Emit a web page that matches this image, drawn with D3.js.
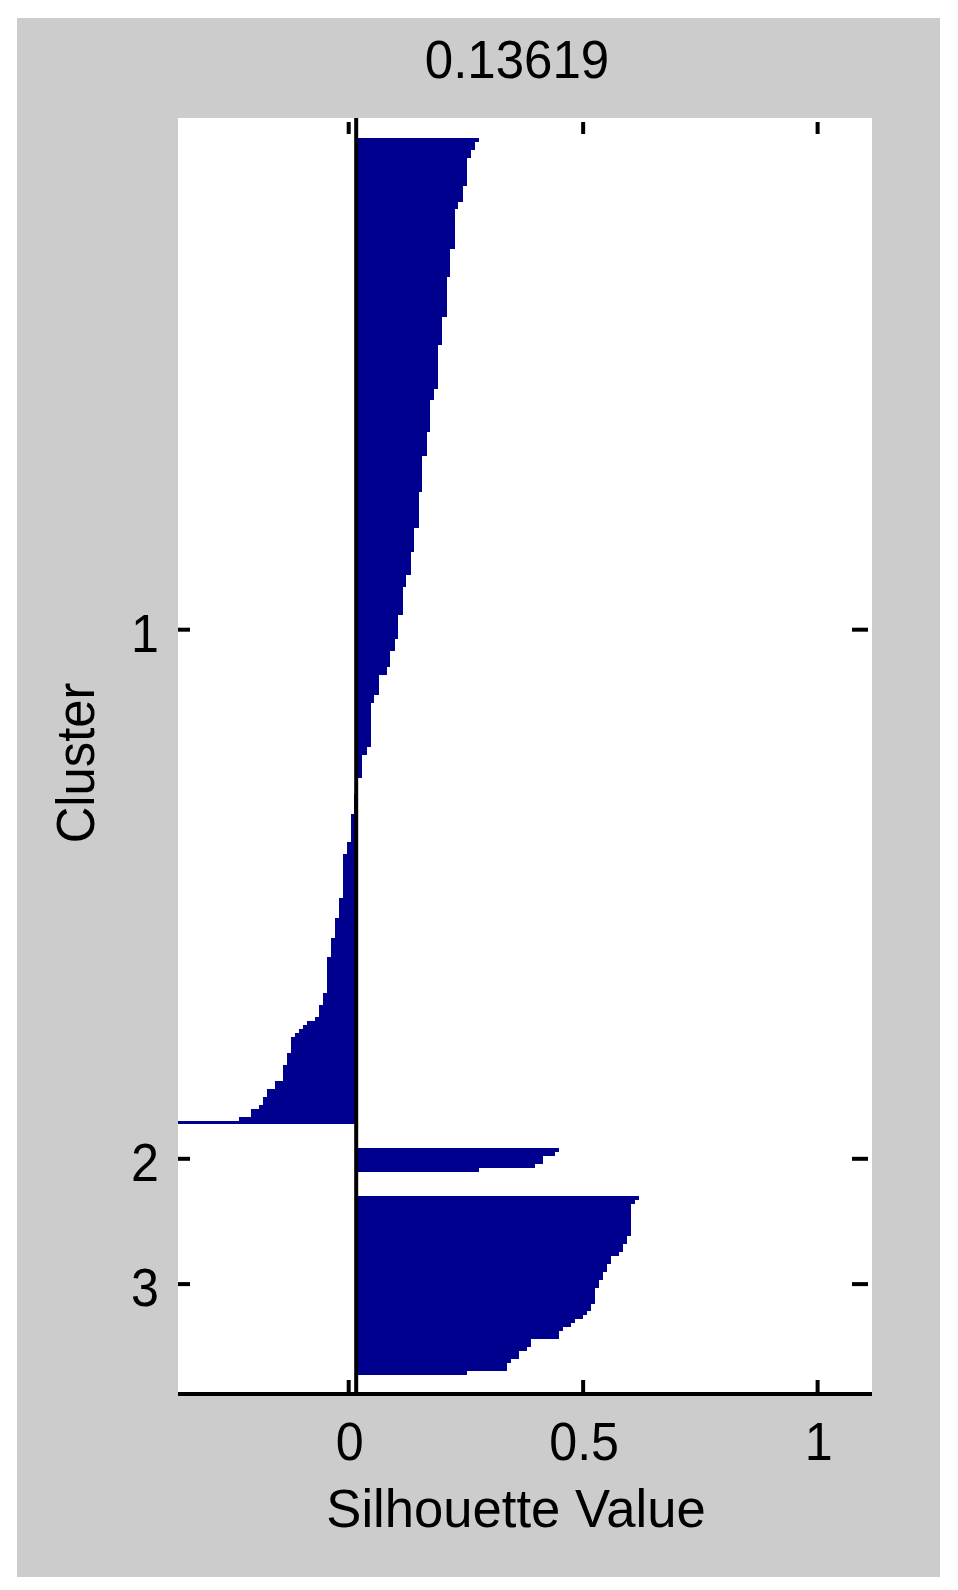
<!DOCTYPE html>
<html>
<head>
<meta charset="utf-8">
<script src="https://cdn.jsdelivr.net/npm/d3@7/dist/d3.min.js"></script>
<style>
  html, body { margin: 0; padding: 0; background: #ffffff; }
  svg { display: block; }
  text { font-family: "Liberation Sans", Arial, Helvetica, sans-serif; fill: #000; }
</style>
</head>
<body>
<svg id="chart" width="958" height="1590"></svg>
<script>
// ---------------- data ----------------
const chartTitle = "0.13619";
const xLabel = "Silhouette Value";
const yLabel = "Cluster";
const clusterNames = ["1", "2", "3"];
const xTicks = [0, 0.5, 1];
const xMax = 1.1;

// silhouette values of cluster 1, sorted descending (one per bar)
const cluster1 = [
  0.262,
  0.254, 0.254,
  0.245, 0.245,
  0.236, 0.236, 0.236, 0.236, 0.236, 0.236, 0.236,
  0.227, 0.227, 0.227, 0.227,
  0.218, 0.218,
  0.210, 0.210, 0.210, 0.210, 0.210, 0.210, 0.210, 0.210, 0.210, 0.210,
  0.201, 0.201, 0.201, 0.201, 0.201, 0.201, 0.201,
  0.193, 0.193, 0.193, 0.193, 0.193, 0.193, 0.193, 0.193, 0.193, 0.193,
  0.184, 0.184, 0.184, 0.184, 0.184, 0.184, 0.184,
  0.175, 0.175, 0.175, 0.175, 0.175, 0.175, 0.175, 0.175, 0.175, 0.175, 0.175,
  0.167, 0.167, 0.167,
  0.158, 0.158, 0.158, 0.158, 0.158, 0.158, 0.158, 0.158,
  0.150, 0.150, 0.150, 0.150, 0.150, 0.150,
  0.141, 0.141, 0.141, 0.141, 0.141, 0.141, 0.141, 0.141, 0.141,
  0.133, 0.133, 0.133, 0.133, 0.133, 0.133, 0.133, 0.133, 0.133,
  0.124, 0.124, 0.124, 0.124, 0.124, 0.124,
  0.116, 0.116, 0.116, 0.116, 0.116, 0.116,
  0.107, 0.107, 0.107,
  0.099, 0.099, 0.099, 0.099, 0.099, 0.099, 0.099,
  0.090, 0.090, 0.090, 0.090, 0.090, 0.090,
  0.082, 0.082, 0.082,
  0.073, 0.073, 0.073, 0.073,
  0.065, 0.065,
  0.048, 0.048, 0.048, 0.048, 0.048,
  0.039, 0.039,
  0.031, 0.031, 0.031, 0.031, 0.031, 0.031, 0.031, 0.031, 0.031, 0.031, 0.031,
  0.022, 0.022,
  0.013, 0.013, 0.013, 0.013, 0.013, 0.013,
  0.004, 0.004, 0.004, 0.004,
  -0.004, -0.004, -0.004, -0.004, -0.004,
  -0.011, -0.011, -0.011, -0.011, -0.011, -0.011, -0.011,
  -0.020, -0.020, -0.020,
  -0.028, -0.028, -0.028, -0.028, -0.028, -0.028, -0.028, -0.028, -0.028, -0.028, -0.028,
  -0.037, -0.037, -0.037, -0.037, -0.037,
  -0.045, -0.045, -0.045, -0.045, -0.045,
  -0.054, -0.054, -0.054, -0.054, -0.054,
  -0.062, -0.062, -0.062, -0.062, -0.062, -0.062, -0.062, -0.062, -0.062,
  -0.071, -0.071, -0.071,
  -0.080, -0.080, -0.080,
  -0.088,
  -0.105,
  -0.114,
  -0.122,
  -0.131,
  -0.139, -0.139, -0.139, -0.139,
  -0.148, -0.148, -0.148,
  -0.156, -0.156, -0.156, -0.156,
  -0.173, -0.173,
  -0.190, -0.190,
  -0.199, -0.199,
  -0.207,
  -0.224, -0.224,
  -0.250,
  -0.380
];

const cluster2 = [0.433, 0.424, 0.398, 0.398, 0.382, 0.262];

const cluster3 = [
  0.603, 0.595,
  0.586, 0.586, 0.586, 0.586, 0.586, 0.586, 0.586, 0.586,
  0.578, 0.578,
  0.569, 0.569,
  0.561,
  0.544, 0.544,
  0.535, 0.535,
  0.527, 0.527,
  0.518, 0.518,
  0.510, 0.510, 0.510, 0.510,
  0.501, 0.501,
  0.492, 0.484, 0.467, 0.458, 0.441,
  0.433, 0.433,
  0.373, 0.373,
  0.365,
  0.348, 0.348,
  0.330,
  0.322, 0.322,
  0.236
];

const clusters = [cluster1, cluster2, cluster3];

// ---------------- layout ----------------
const W = 958, H = 1590;
const panel = { x0: 17, y0: 18, x1: 940, y1: 1577 };
const plot = { left: 178, right: 872, top: 118, bottom: 1395 };
const leadRows = 5, gapRows = 6, trailRows = 5;
const barColor = "#00008F";
const fontSize = 54;

// build bar rows
const bars = [];
const tickRows = [];
let r = leadRows;
clusters.forEach((vals, ci) => {
  const first = r;
  vals.forEach(v => bars.push({ row: r++, v: v, c: ci }));
  const last = r - 1;
  tickRows.push((first + last) / 2);
  r += (ci < clusters.length - 1) ? gapRows : trailRows;
});
const totalRows = r;

const allVals = bars.map(d => d.v);
const x = d3.scaleLinear()
  .domain([d3.min(allVals), xMax])
  .range([plot.left, plot.right]);
const y = d3.scaleLinear()
  .domain([0, totalRows])
  .range([plot.top, plot.bottom]);

const svg = d3.select("#chart");

// grey figure panel
svg.append("rect")
  .attr("x", panel.x0).attr("y", panel.y0)
  .attr("width", panel.x1 - panel.x0).attr("height", panel.y1 - panel.y0)
  .attr("fill", "#cccccc");

// white axes area
svg.append("rect")
  .attr("x", plot.left).attr("y", plot.top)
  .attr("width", plot.right - plot.left).attr("height", 1394 - plot.top)
  .attr("fill", "#ffffff");

// bars
svg.append("g")
  .selectAll("rect")
  .data(bars)
  .join("rect")
  .attr("x", d => x(Math.min(0, d.v)))
  .attr("width", d => Math.abs(x(d.v) - x(0)))
  .attr("y", d => y(d.row))
  .attr("height", d => y(d.row + 1) - y(d.row))
  .attr("fill", barColor)
  .attr("shape-rendering", "crispEdges");

// baseline at zero
svg.append("line")
  .attr("x1", x(0)).attr("x2", x(0))
  .attr("y1", plot.top).attr("y2", 1392)
  .attr("stroke", "#000").attr("stroke-width", 4);

// helper to squeeze texts
function squeezeText(sel, dx, dyy, anchor, sq) {
  sel.attr("x", 0).attr("y", 0).attr("dy", null)
    .attr("text-anchor", anchor)
    .attr("transform", `translate(${dx},${dyy}) scale(${sq},1)`)
    .style("font-size", fontSize + "px")
    .style("font-family", '"Liberation Sans", Arial, sans-serif');
}

const tickShift = -8; // tick marks are drawn a little left of the baseline

// bottom axis
const gBottom = svg.append("g")
  .attr("transform", `translate(${tickShift},1392)`)
  .call(d3.axisBottom(x).tickValues(xTicks).tickFormat(d3.format("")).tickSizeInner(-12).tickSizeOuter(0));
gBottom.select(".domain").remove();
gBottom.selectAll(".tick line").attr("stroke", "#000").attr("stroke-width", 4);
squeezeText(gBottom.selectAll(".tick text"), 1, 68, "middle", 0.93);

// top axis ticks
const gTop = svg.append("g")
  .attr("transform", `translate(${tickShift},122)`)
  .call(d3.axisTop(x).tickValues(xTicks).tickFormat("").tickSizeInner(-12).tickSizeOuter(0));
gTop.select(".domain").remove();
gTop.selectAll(".tick line").attr("stroke", "#000").attr("stroke-width", 4);

// left axis
const gLeft = svg.append("g")
  .attr("transform", `translate(${plot.left},0)`)
  .call(d3.axisLeft(y).tickValues(tickRows).tickFormat((d, i) => clusterNames[i]).tickSizeInner(-12).tickSizeOuter(0));
gLeft.select(".domain").remove();
gLeft.selectAll(".tick line").attr("stroke", "#000").attr("stroke-width", 4);
squeezeText(gLeft.selectAll(".tick text"), -19, 22, "end", 0.93);

// right axis ticks
const gRight = svg.append("g")
  .attr("transform", `translate(868,0)`)
  .call(d3.axisRight(y).tickValues(tickRows).tickFormat("").tickSizeInner(-16).tickSizeOuter(0));
gRight.select(".domain").remove();
gRight.selectAll(".tick line").attr("stroke", "#000").attr("stroke-width", 4);

// bottom axis line
svg.append("line")
  .attr("x1", plot.left).attr("x2", plot.right)
  .attr("y1", 1394).attr("y2", 1394)
  .attr("stroke", "#000").attr("stroke-width", 4);

// title
svg.append("text").text(chartTitle)
  .call(squeezeText, 517, 78, "middle", 0.945);

// x label
svg.append("text").text(xLabel)
  .call(squeezeText, 516, 1527, "middle", 0.975);

// y label
svg.append("text").text(yLabel)
  .attr("x", 0).attr("y", 0)
  .attr("text-anchor", "middle")
  .attr("transform", `translate(94,763) rotate(-90) scale(0.94,1)`)
  .style("font-size", fontSize + "px");
</script>
</body>
</html>
